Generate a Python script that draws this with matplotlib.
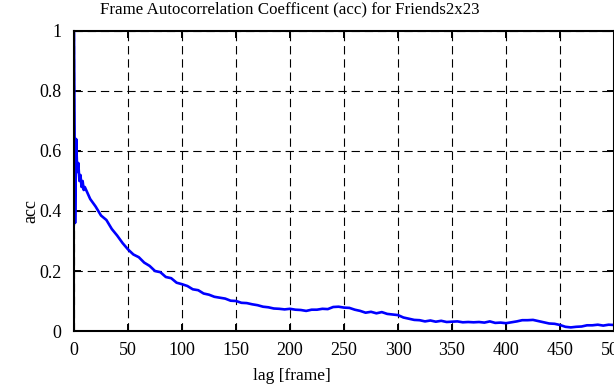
import matplotlib
matplotlib.use("Agg")
import matplotlib.pyplot as plt

# lag (frames) and autocorrelation values
lags = [0, 1, 2, 3, 4, 5, 6, 7, 8, 9, 10,
        15, 20, 25, 30, 35, 40, 45, 50, 55, 60, 65, 70, 75, 80, 85, 90, 95,
        100, 105, 110, 115, 120, 125, 130, 135, 140, 145, 150, 155, 160, 165,
        170, 175, 180, 185, 190, 195, 200, 205, 210, 215, 220, 225, 230, 235,
        240, 245, 250, 255, 260, 265, 270, 275, 280, 285, 290, 295, 300, 305,
        310, 315, 320, 325, 330, 335, 340, 345, 350, 355, 360, 365, 370, 375,
        380, 385, 390, 395, 400, 405, 410, 415, 420, 425, 430, 435, 440, 445,
        450, 455, 460, 465, 470, 475, 480, 485, 490, 495, 500]
acc = [1.0, 0.36, 0.64, 0.53, 0.56, 0.50, 0.52, 0.48, 0.50, 0.47, 0.48,
       0.44, 0.415, 0.385, 0.37, 0.34, 0.318, 0.293, 0.272, 0.255, 0.246, 0.228, 0.217, 0.200,
       0.196, 0.180, 0.176, 0.161, 0.156, 0.150, 0.139, 0.136, 0.125, 0.121, 0.114,
       0.111, 0.108, 0.101, 0.100, 0.094, 0.093, 0.089, 0.086, 0.081, 0.079, 0.075,
       0.074, 0.072, 0.074, 0.071, 0.070, 0.067, 0.071, 0.071, 0.074, 0.073, 0.080,
       0.081, 0.078, 0.077, 0.071, 0.067, 0.061, 0.064, 0.059, 0.063, 0.057, 0.055,
       0.053, 0.045, 0.041, 0.037, 0.036, 0.032, 0.035, 0.031, 0.034, 0.030, 0.031,
       0.032, 0.029, 0.030, 0.029, 0.030, 0.028, 0.032, 0.027, 0.028, 0.026, 0.029,
       0.032, 0.036, 0.036, 0.037, 0.033, 0.029, 0.025, 0.024, 0.020, 0.014, 0.012,
       0.014, 0.015, 0.019, 0.019, 0.021, 0.018, 0.021, 0.020]

xticks = [0, 50, 100, 150, 200, 250, 300, 350, 400, 450, 500]
yticks = [0, 0.2, 0.4, 0.6, 0.8, 1]

plt.rcParams['font.family'] = ['Liberation Serif', 'DejaVu Serif']
plt.rcParams['lines.scale_dashes'] = False

fig = plt.figure(figsize=(6.14, 3.85), dpi=100)
ax = fig.add_axes([74 / 614, 54 / 385, 540 / 614, 300 / 385])

ax.plot(lags, acc, color='#0000ff', lw=1.9)

ax.set_xlim(0, 500)
ax.set_ylim(0, 1)
ax.set_xticks(xticks)
ax.set_yticks(yticks)
ax.set_yticklabels(['%g' % v for v in yticks])
ax.tick_params(direction='in', length=5, width=1.4, labelsize=13,
               top=True, right=True)
ax.tick_params(axis='x', pad=8)
ax.tick_params(axis='y', pad=9)
for s in ax.spines.values():
    s.set_linewidth(1.5)

ax.grid(True, color='black', linewidth=0.8, linestyle=(0, (6, 3.5)))

ax.set_xlabel('lag [frame]', fontsize=12.5)
ax.xaxis.set_label_coords(0.404, -0.125)
ax.set_ylabel('acc', fontsize=13)
ax.yaxis.set_label_coords(-0.064, 0.40)
ax.set_title('Frame Autocorrelation Coefficent (acc) for Friends2x23',
             fontsize=12.2, x=0.40, y=1.03)

fig.savefig('out.png', dpi=100)
